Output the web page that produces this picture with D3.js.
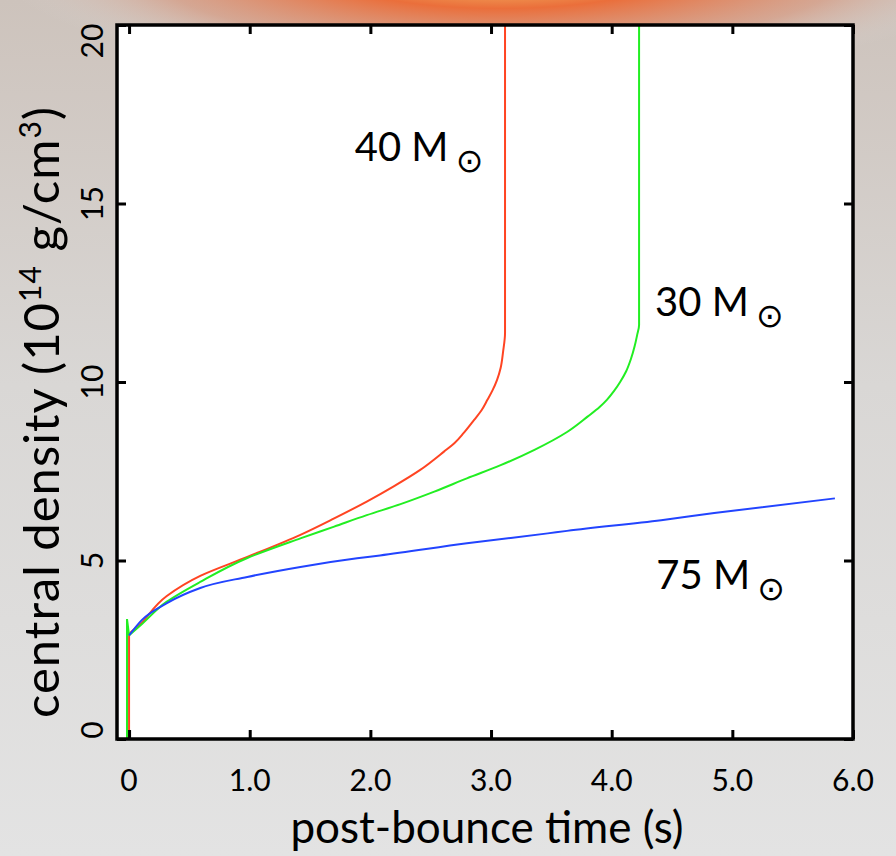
<!DOCTYPE html>
<html>
<head>
<meta charset="utf-8">
<script src="https://cdn.jsdelivr.net/npm/d3@7"></script>
<style>
  body { margin: 0; background: #e0e0e0; }
  svg { display: block; }
  text { font-family: Lato, "Open Sans", sans-serif; fill: #000; }
</style>
</head>
<body>
<div id="chart"></div>
<script>
// tick labels
var xTicks = [0, 1, 2, 3, 4, 5, 6];
var xTickLabels = ["0", "1.0", "2.0", "3.0", "4.0", "5.0", "6.0"];
var yTicks = [0, 5, 10, 15, 20];
var yTickLabels = ["0", "5", "10", "15", "20"];

// 40 Msun (red)
var time40 = [0, 0, 0.09, 0.31, 0.59, 0.98, 1.42, 1.70, 1.97, 2.19, 2.41, 2.61, 2.70, 2.77, 2.86, 2.92, 2.97, 3.01, 3.05, 3.08, 3.10, 3.116, 3.116];
var dens40 = [0, 2.9, 3.2, 4.0, 4.57, 5.1, 5.72, 6.18, 6.65, 7.07, 7.53, 8.05, 8.3, 8.56, 8.94, 9.2, 9.5, 9.75, 10.06, 10.4, 10.85, 11.37, 20];

// 30 Msun (green) - starts with a short spike before bounce
var time30 = [-0.017, -0.017, 0.0, 0.1, 0.31, 0.59, 0.98, 1.42, 1.70, 1.97, 2.25, 2.53, 2.80, 3.08, 3.36, 3.63, 3.80, 3.90, 3.96, 4.02, 4.07, 4.12, 4.16, 4.19, 4.21, 4.227, 4.227];
var dens30 = [0, 3.36, 2.9, 3.2, 3.84, 4.4, 5.07, 5.62, 5.95, 6.27, 6.58, 6.93, 7.3, 7.67, 8.1, 8.6, 9.03, 9.3, 9.5, 9.75, 10.0, 10.3, 10.65, 11.0, 11.3, 11.6, 20];

// 75 Msun (blue)
var time75 = [0, 0.105, 0.31, 0.59, 0.98, 1.42, 1.89, 2.08, 2.80, 3.47, 3.63, 4.41, 4.85, 5.85];
var dens75 = [2.9, 3.33, 3.8, 4.23, 4.54, 4.82, 5.06, 5.14, 5.48, 5.76, 5.83, 6.13, 6.33, 6.74];

// spike = number of leading points drawn straight (the rest is smoothed)
var series = [
    { name: "40", t: time40, d: dens40, spike: 0, along: "y", color: "#ff4422" },
    { name: "30", t: time30, d: dens30, spike: 2, along: "y", color: "#22ee22" },
    { name: "75", t: time75, d: dens75, spike: 0, along: "x", color: "#2244ff" }
];

var labels = [
    { text: "40 M", t: 1.87, d: 16.2 },
    { text: "30 M", t: 4.36, d: 11.85 },
    { text: "75 M", t: 4.37, d: 4.2 }
];

var width = 896,
    height = 856;

var svg = d3.select("#chart")
    .append("svg")
    .attr("width", width)
    .attr("height", height);

// background: grey with a fiery glow at the top
var defs = svg.append("defs");
var glow = defs.append("radialGradient")
    .attr("id", "glow")
    .attr("gradientUnits", "userSpaceOnUse")
    .attr("cx", 500).attr("cy", -30).attr("r", 500)
    .attr("gradientTransform", "translate(500,-30) scale(1,0.22) translate(-500,30)");
glow.append("stop").attr("offset", "0%").attr("stop-color", "#f8e27a").attr("stop-opacity", 1);
glow.append("stop").attr("offset", "35%").attr("stop-color", "#ec6a34").attr("stop-opacity", 0.95);
glow.append("stop").attr("offset", "70%").attr("stop-color", "#dc8a6a").attr("stop-opacity", 0.5);
glow.append("stop").attr("offset", "100%").attr("stop-color", "#e0e0e0").attr("stop-opacity", 0);

var shade = defs.append("linearGradient")
    .attr("id", "shade")
    .attr("x1", 0).attr("y1", 0).attr("x2", 0).attr("y2", 1);
shade.append("stop").attr("offset", "0%").attr("stop-color", "#cdc3bc");
shade.append("stop").attr("offset", "45%").attr("stop-color", "#d9d7d5");
shade.append("stop").attr("offset", "100%").attr("stop-color", "#e3e3e3");

svg.append("rect").attr("width", width).attr("height", height).attr("fill", "url(#shade)");
svg.append("rect").attr("width", width).attr("height", height).attr("fill", "url(#glow)");

var x = d3.scaleLinear().domain([-0.1, 6.0]).range([117, 853]);
var y = d3.scaleLinear().domain([0, 20]).range([739, 25]);

// plot area
svg.append("rect")
    .attr("x", x(-0.1)).attr("y", y(20))
    .attr("width", x(6) - x(-0.1)).attr("height", y(0) - y(20))
    .attr("fill", "#fff");

// curves
function makeLine(curve) {
    return d3.line()
        .x(function (p) { return x(p[0]); })
        .y(function (p) { return y(p[1]); })
        .curve(curve);
}
var straight = makeLine(d3.curveLinear);
var smoothY = makeLine(d3.curveMonotoneY);
var smoothX = makeLine(d3.curveMonotoneX);

var curves = svg.selectAll("g.curve")
    .data(series)
    .enter().append("g")
    .attr("class", "curve")
    .attr("fill", "none")
    .attr("stroke", function (s) { return s.color; })
    .attr("stroke-width", 2);

curves.filter(function (s) { return s.spike > 0; })
    .append("path")
    .attr("d", function (s) { return straight(d3.zip(s.t, s.d).slice(0, s.spike + 1)); });

curves.append("path")
    .attr("d", function (s) {
        var pts = d3.zip(s.t, s.d).slice(s.spike);
        return s.along === "y" ? smoothY(pts) : smoothX(pts);
    });

// inward ticks on all four sides
function tickStyle(g) {
    g.select(".domain").remove();
    g.selectAll(".tick line").attr("stroke", "#000").attr("stroke-width", 3);
}
svg.append("g").attr("transform", "translate(0," + y(0) + ")")
    .call(d3.axisBottom(x).tickValues(xTicks).tickSize(-9).tickFormat(""))
    .call(tickStyle);
svg.append("g").attr("transform", "translate(0," + y(20) + ")")
    .call(d3.axisTop(x).tickValues(xTicks).tickSize(-9).tickFormat(""))
    .call(tickStyle);
svg.append("g").attr("transform", "translate(" + x(-0.1) + ",0)")
    .call(d3.axisLeft(y).tickValues(yTicks).tickSize(-9).tickFormat(""))
    .call(tickStyle);
svg.append("g").attr("transform", "translate(" + x(6) + ",0)")
    .call(d3.axisRight(y).tickValues(yTicks).tickSize(-9).tickFormat(""))
    .call(tickStyle);

// frame
svg.append("rect")
    .attr("x", x(-0.1)).attr("y", y(20))
    .attr("width", x(6) - x(-0.1)).attr("height", y(0) - y(20))
    .attr("fill", "none")
    .attr("stroke", "#000")
    .attr("stroke-width", 3.5);

// tick labels
svg.selectAll("text.xlab")
    .data(xTicks)
    .enter().append("text")
    .attr("class", "xlab")
    .attr("x", function (d) { return x(d); })
    .attr("y", 791)
    .attr("text-anchor", "middle")
    .style("font-size", "30px")
    .text(function (d, i) { return xTickLabels[i]; });

// rotated labels, kept inside the frame's height
svg.selectAll("text.ylab")
    .data(yTicks)
    .enter().append("text")
    .attr("class", "ylab")
    .attr("transform", function (d) {
        var cy = Math.max(41, Math.min(730, y(d)));
        return "translate(103," + cy + ") rotate(-90)";
    })
    .attr("text-anchor", "middle")
    .style("font-size", "30px")
    .text(function (d, i) { return yTickLabels[i]; });

// axis titles
svg.append("text")
    .attr("x", 487).attr("y", 843)
    .attr("text-anchor", "middle")
    .style("font-size", "44px")
    .text("post-bounce time (s)");

var yt = svg.append("text")
    .attr("transform", "translate(59,412) rotate(-90)")
    .attr("text-anchor", "middle")
    .style("font-size", "49px")
    .style("letter-spacing", "1px");
yt.append("tspan").text("central density (10");
yt.append("tspan").attr("dy", -18).style("font-size", "30px").text("14");
yt.append("tspan").attr("dy", 18).text(" g/cm");
yt.append("tspan").attr("dy", -18).style("font-size", "30px").text("3");
yt.append("tspan").attr("dy", 18).text(")");

// mass labels
var lab = svg.selectAll("g.mass")
    .data(labels)
    .enter().append("g")
    .attr("class", "mass")
    .attr("transform", function (d) { return "translate(" + x(d.t) + "," + y(d.d) + ")"; });
lab.append("text")
    .style("font-size", "40px")
    .text(function (d) { return d.text; });
lab.append("text")
    .attr("x", 101).attr("y", 11)
    .style("font-family", "DejaVu Sans")
    .style("font-size", "33px")
    .text("\u2299");
</script>
</body>
</html>
